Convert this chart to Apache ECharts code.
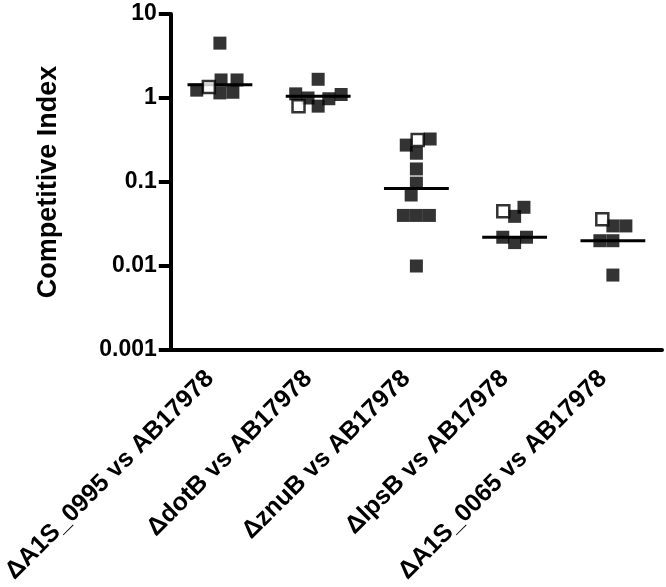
<!DOCTYPE html>
<html><head><meta charset="utf-8">
<script src="https://cdn.jsdelivr.net/npm/echarts@6/dist/echarts.min.js"></script>
<style>html,body{margin:0;padding:0;background:#fff}#c{width:666px;height:587px}</style>
</head><body><div id="c"></div>
<script>
const categories = ['ΔA1S_0995 vs AB17978', 'ΔdotB vs AB17978', 'ΔznuB vs AB17978', 'ΔlpsB vs AB17978', 'ΔA1S_0065 vs AB17978'];
const yTickLabels = ['0.001', '0.01', '0.1', '1', '10'];
// all values per group (one of them is the open-square animal, see openIndex)
const valuesA1S0995 = [1.15, 1.35, 1.17, 1.24, 1.64, 1.64, 4.5];
const valuesDotB = [0.8, 1.0, 0.98, 1.12, 1.1, 1.67, 0.8];
const valuesZnuB = [0.01, 0.04, 0.04, 0.04, 0.097, 0.07, 0.143, 0.22, 0.275, 0.316, 0.325];
const valuesLpsB = [0.019, 0.022, 0.022, 0.039, 0.045, 0.05];
const valuesA1S0065 = [0.02, 0.02, 0.0078, 0.03, 0.036, 0.03];
// index of the open square inside each group
const openIndex = [1, 6, 9, 4, 4];

const groups = [valuesA1S0995, valuesDotB, valuesZnuB, valuesLpsB, valuesA1S0065];

function median(arr) {
  const s = arr.slice().sort((a, b) => a - b);
  const n = s.length;
  return n % 2 ? s[(n - 1) / 2] : (s[n / 2 - 1] + s[n / 2]) / 2;
}

const FONT = '"Liberation Sans", Arial, Helvetica, sans-serif';
const filledStyle = { color: '#000' };
const openStyle = { color: '#fff', borderColor: '#000', borderWidth: 2.5 };

const scatterSeries = categories.map((cat, ci) => {
  const data = groups[ci].map((v, i) => i === openIndex[ci]
    ? { value: [ci, v], itemStyle: openStyle, symbolSize: 12 }
    : { value: [ci, v], itemStyle: filledStyle });
  return {
    type: 'scatter', name: cat, symbol: 'rect', symbolSize: 13, z: 3,
    data: data, silent: true
  };
});

const medianSeries = {
  type: 'custom', z: 2, silent: true,
  data: groups.map((g, ci) => [ci, median(g.filter((v, i) => i !== openIndex[ci]))]),
  renderItem: function (params, api) {
    const p = api.coord([api.value(0), api.value(1)]);
    const bw = api.size([1, 0])[0];
    const half = bw * 0.33;
    return { type: 'line', shape: { x1: p[0] - half, y1: p[1], x2: p[0] + half, y2: p[1] },
      style: { stroke: '#000', lineWidth: 3 } };
  }
};

const chart = echarts.init(document.getElementById('c'), null, { renderer: 'canvas' });
chart.setOption({
  animation: false,
  backgroundColor: '#fff',
  grid: { left: 157, right: 4, top: 14, bottom: 237, containLabel: false },
  xAxis: {
    type: 'category', data: categories, boundaryGap: true,
    jitter: 80, jitterOverlap: false, jitterMargin: 0,
    axisLine: { lineStyle: { color: '#000', width: 4 } },
    axisTick: { alignWithLabel: true, length: 11, lineStyle: { color: '#000', width: 4 } },
    axisLabel: { rotate: 45, margin: 15, padding: [0, 14, 0, 0], color: '#000', fontSize: 25, fontWeight: 'bold', fontFamily: FONT, interval: 0 },
    splitLine: { show: false }
  },
  yAxis: {
    type: 'log', logBase: 10, min: 0.001, max: 10,
    name: 'Competitive Index', nameLocation: 'middle', nameGap: 109,
    nameTextStyle: { color: '#000', fontSize: 27, fontWeight: 'bold', fontFamily: FONT },
    axisLine: { show: true, lineStyle: { color: '#000', width: 4 } },
    axisTick: { show: true, length: 12, lineStyle: { color: '#000', width: 4 } },
    axisLabel: { margin: 14, color: '#000', fontSize: 23, fontWeight: 'bold', fontFamily: FONT,
      formatter: function (v) { const e = Math.round(Math.log10(v)); return yTickLabels[e + 3] !== undefined ? yTickLabels[e + 3] : ''; } },
    splitLine: { show: false },
    minorTick: { show: false }
  },
  series: [medianSeries].concat(scatterSeries)
});
</script></body></html>
